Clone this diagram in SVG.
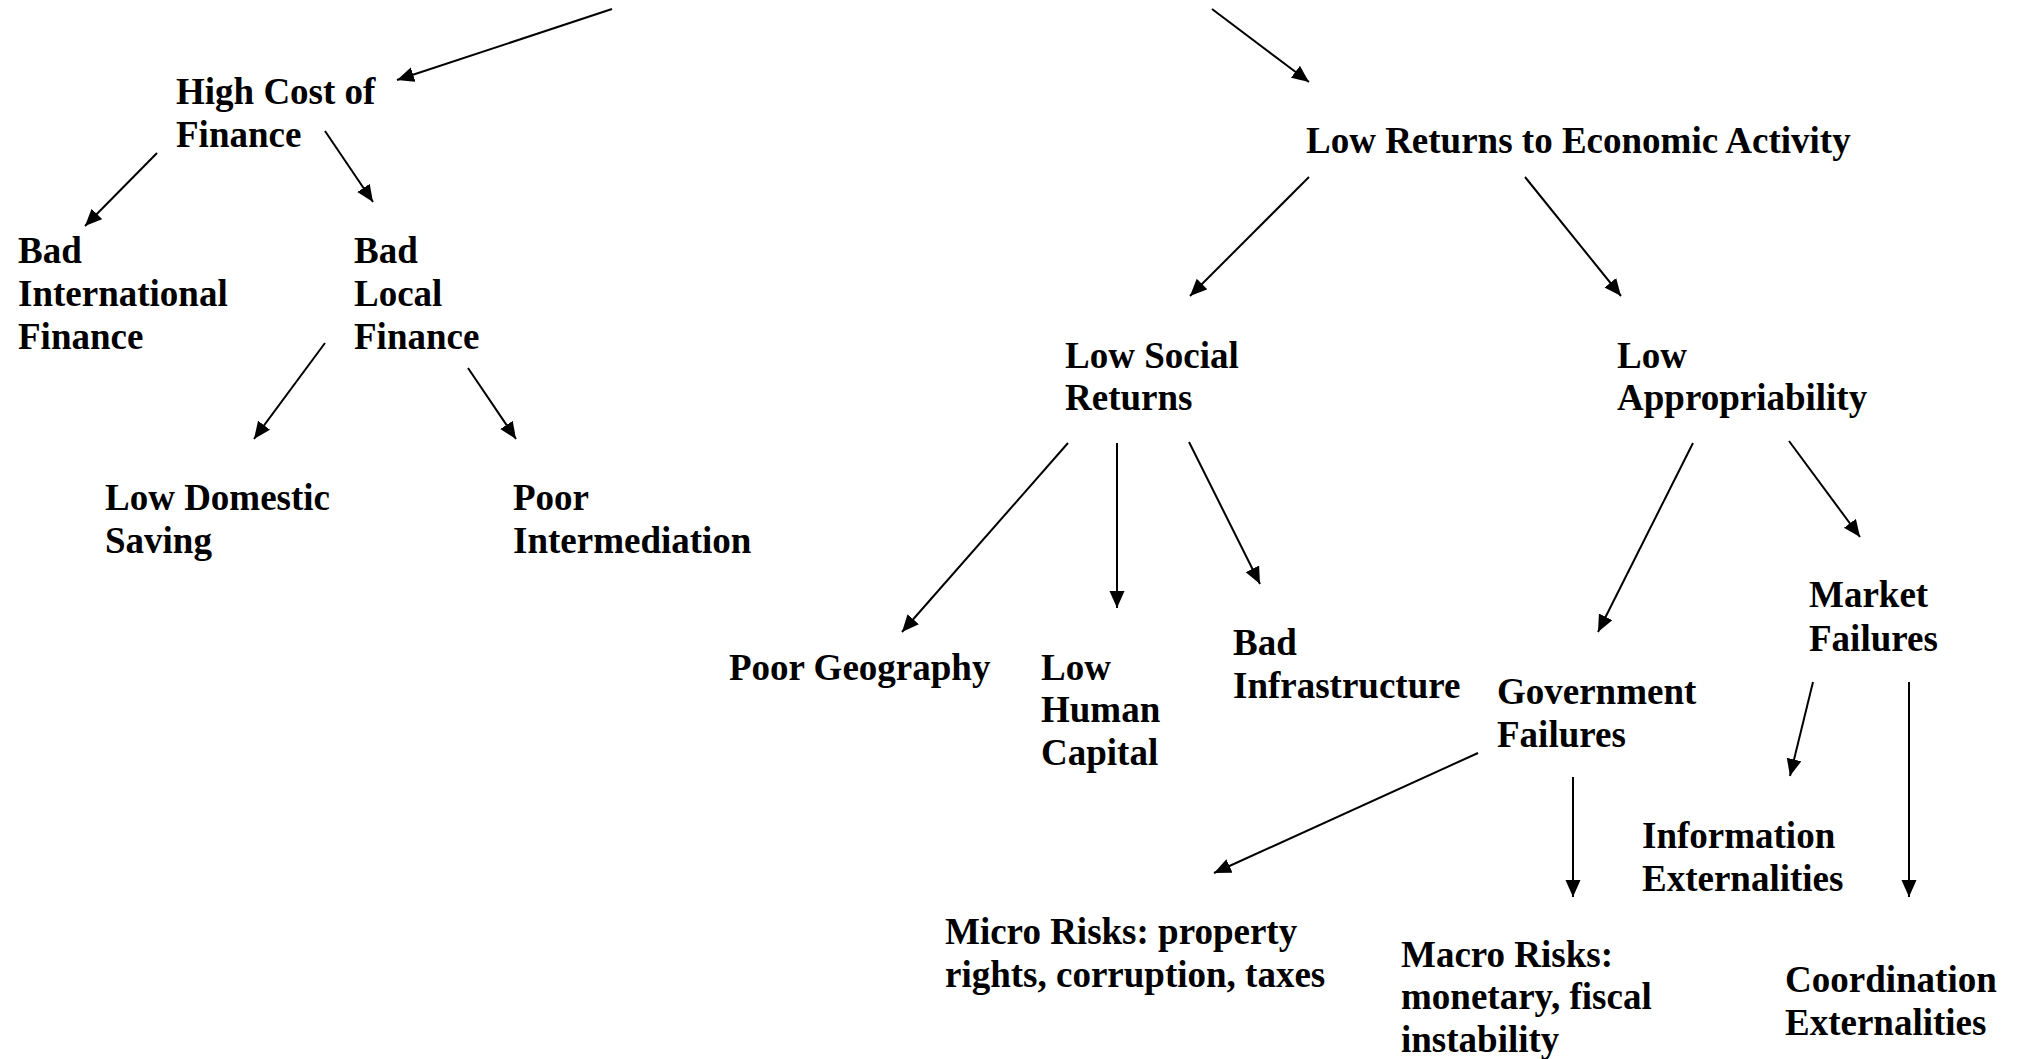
<svg xmlns="http://www.w3.org/2000/svg" width="2019" height="1059" viewBox="0 0 2019 1059">
<style>
  text { font-family: "Liberation Serif", "Times New Roman", serif; font-weight: bold; font-size: 37px; fill: #000; }
  .c line { stroke: #000; stroke-width: 2; marker-end: url(#ah); }
</style>
<defs>
  <marker id="ah" markerUnits="userSpaceOnUse" markerWidth="18" markerHeight="16" refX="17" refY="7.5" orient="auto">
    <path d="M0,0 L17,7.5 L0,15 z" fill="#000"/>
  </marker>
</defs>
<rect width="2019" height="1059" fill="#fff"/>
<g id="connectors" class="c">
  <line x1="612" y1="9" x2="397" y2="80"/>
  <line x1="1212" y1="9" x2="1309" y2="82"/>
  <line x1="157" y1="153" x2="85" y2="226"/>
  <line x1="325" y1="131" x2="373" y2="202"/>
  <line x1="325" y1="343" x2="254" y2="439"/>
  <line x1="468" y1="368" x2="516" y2="439"/>
  <line x1="1309" y1="177" x2="1190" y2="296"/>
  <line x1="1525" y1="177" x2="1621" y2="296"/>
  <line x1="1068" y1="443" x2="902" y2="632"/>
  <line x1="1117" y1="443" x2="1117" y2="608"/>
  <line x1="1189" y1="442" x2="1260" y2="584"/>
  <line x1="1693" y1="443" x2="1598" y2="632"/>
  <line x1="1789" y1="441" x2="1860" y2="537"/>
  <line x1="1813" y1="682" x2="1790" y2="776"/>
  <line x1="1909" y1="682" x2="1909" y2="897"/>
  <line x1="1478" y1="753" x2="1214" y2="873"/>
  <line x1="1573" y1="777" x2="1573" y2="897"/>
</g>
<g transform="translate(0,1.5)">
<g id="high-cost-of-finance"><text x="176" y="102"><tspan x="176">High Cost of</tspan><tspan x="176" y="145">Finance</tspan></text></g>
<g id="bad-international-finance"><text x="18" y="261"><tspan x="18">Bad</tspan><tspan x="18" y="304">International</tspan><tspan x="18" y="347">Finance</tspan></text></g>
<g id="bad-local-finance"><text x="354" y="261"><tspan x="354">Bad</tspan><tspan x="354" y="304">Local</tspan><tspan x="354" y="347">Finance</tspan></text></g>
<g id="low-domestic-saving"><text x="105" y="508"><tspan x="105">Low Domestic</tspan><tspan x="105" y="551">Saving</tspan></text></g>
<g id="poor-intermediation"><text x="513" y="508"><tspan x="513">Poor</tspan><tspan x="513" y="551">Intermediation</tspan></text></g>
<g id="low-returns"><text x="1306" y="151">Low Returns to Economic Activity</text></g>
<g id="low-social-returns"><text x="1065" y="366"><tspan x="1065">Low Social</tspan><tspan x="1065" y="408">Returns</tspan></text></g>
<g id="low-appropriability"><text x="1617" y="366"><tspan x="1617">Low</tspan><tspan x="1617" y="408">Appropriability</tspan></text></g>
<g id="poor-geography"><text x="729" y="678">Poor Geography</text></g>
<g id="low-human-capital"><text x="1041" y="678"><tspan x="1041">Low</tspan><tspan x="1041" y="720">Human</tspan><tspan x="1041" y="763">Capital</tspan></text></g>
<g id="bad-infrastructure"><text x="1233" y="653"><tspan x="1233">Bad</tspan><tspan x="1233" y="696">Infrastructure</tspan></text></g>
<g id="government-failures"><text x="1497" y="702"><tspan x="1497">Government</tspan><tspan x="1497" y="745">Failures</tspan></text></g>
<g id="market-failures"><text x="1809" y="605"><tspan x="1809">Market</tspan><tspan x="1809" y="649">Failures</tspan></text></g>
<g id="information-externalities"><text x="1642" y="846"><tspan x="1642">Information</tspan><tspan x="1642" y="889">Externalities</tspan></text></g>
<g id="coordination-externalities"><text x="1785" y="990"><tspan x="1785">Coordination</tspan><tspan x="1785" y="1033">Externalities</tspan></text></g>
<g id="micro-risks"><text x="945" y="942"><tspan x="945">Micro Risks: property</tspan><tspan x="945" y="985">rights, corruption, taxes</tspan></text></g>
<g id="macro-risks"><text x="1401" y="965"><tspan x="1401">Macro Risks:</tspan><tspan x="1401" y="1007">monetary, fiscal</tspan><tspan x="1401" y="1050">instability</tspan></text></g>
</g>
</svg>
